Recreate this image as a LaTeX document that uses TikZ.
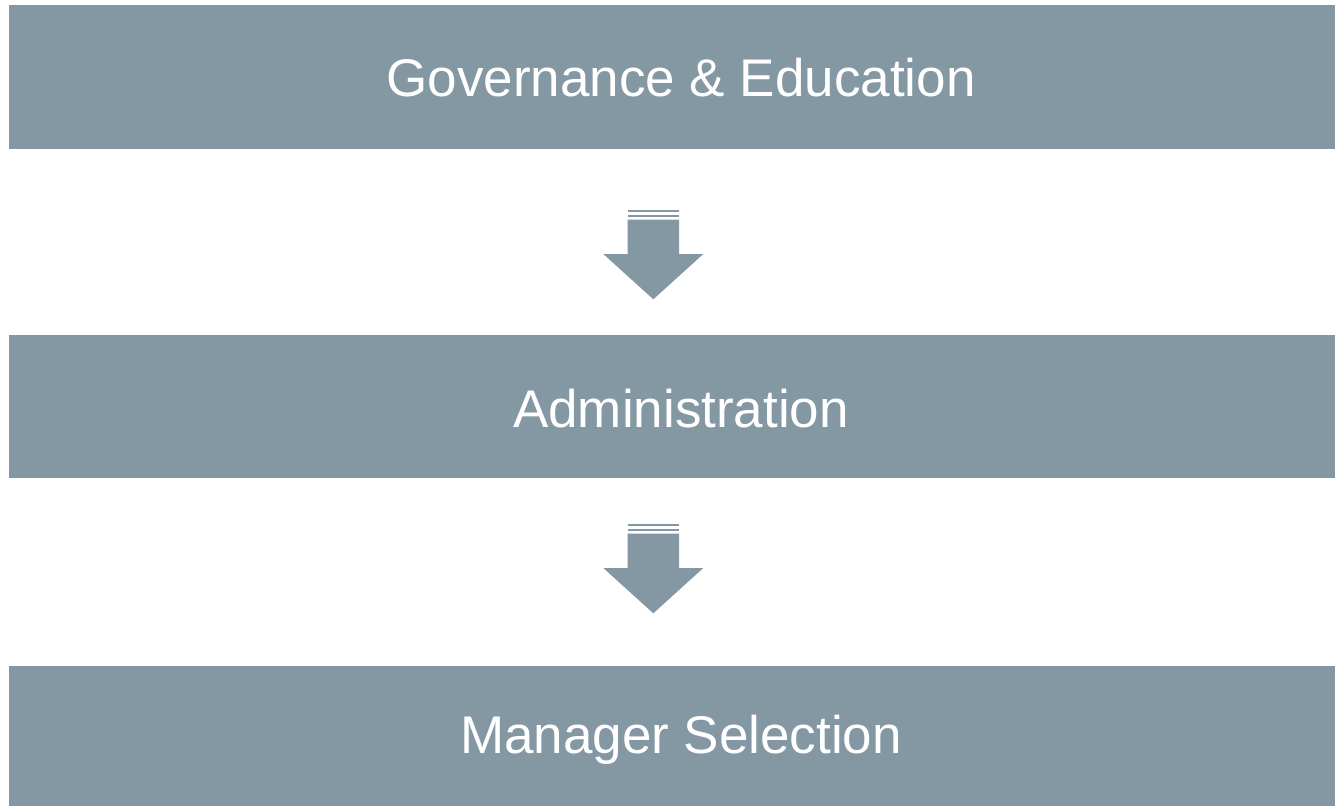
\documentclass[tikz,border=0pt]{standalone}
\usepackage{fontspec}
\setmainfont{Liberation Sans}
\definecolor{slate}{RGB}{132,152,164}
\begin{document}
\begin{tikzpicture}[x=1pt,y=-1pt,
  bandtext/.style={text=white,font=\fontsize{53}{60}\selectfont,anchor=center,inner sep=0pt}]
\useasboundingbox[fill=white] (0,0) rectangle (1335,806);
% three horizontal bands
\fill[slate] (9,5) rectangle (1335,149);
\fill[slate] (9,335) rectangle (1335,478);
\fill[slate] (9,666) rectangle (1335,806);
\node[bandtext] (gov) at (681,78) {Governance \& Education};
\node[bandtext] (adm) at (681,409) {Administration};
\node[bandtext] (mgr) at (681,740) {Manager Selection};
% down arrows with two thin bars on top
\foreach \dy/\nm in {0/a1,314/a2}{
  \begin{scope}[yshift=-\dy pt]
    \coordinate (\nm) at (653,210);
    \fill[slate] (627.7,209.5) rectangle (679,212);
    \fill[slate] (627.7,214.5) rectangle (679,216.8);
    \fill[slate] (627.7,219.5) -- (679,219.5) -- (679,254) -- (703.3,254)
      -- (653.3,299.3) -- (603.3,254) -- (627.7,254) -- cycle;
  \end{scope}
}
\end{tikzpicture}
\end{document}
